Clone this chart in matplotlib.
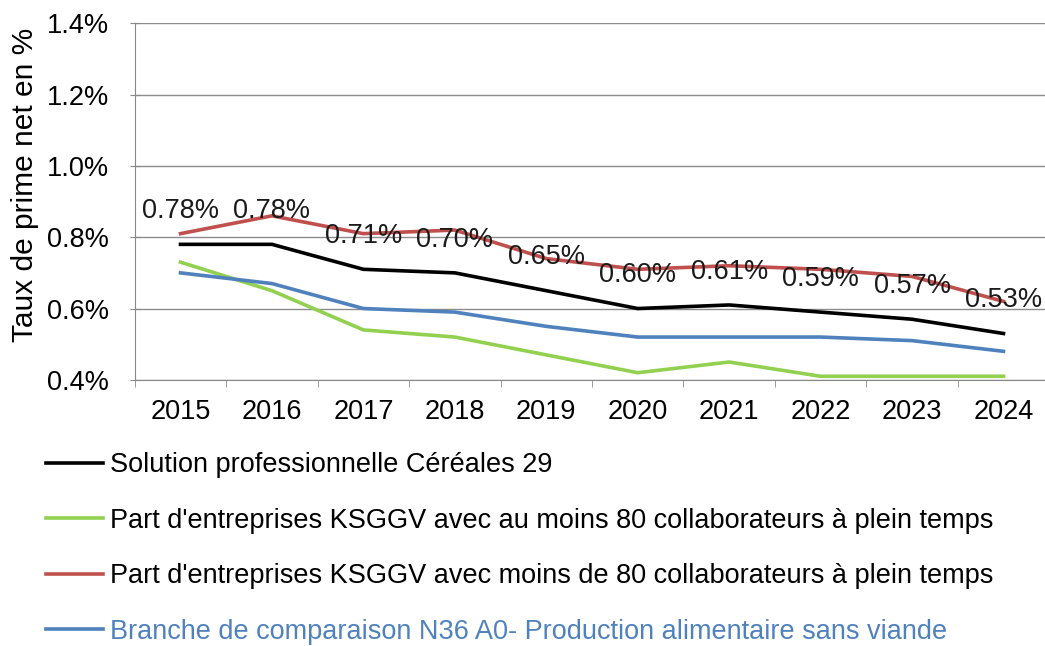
import matplotlib
matplotlib.use("Agg")
from matplotlib import pyplot as plt
from matplotlib.ticker import FuncFormatter, FixedLocator

plt.rcParams['font.family'] = ['Liberation Sans', 'DejaVu Sans']

years = ['2015', '2016', '2017', '2018', '2019', '2020', '2021', '2022', '2023', '2024']

# taux de prime net (%)
solution_cereales = [0.78, 0.78, 0.71, 0.70, 0.65, 0.60, 0.61, 0.59, 0.57, 0.53]
ksggv_80_plus = [0.73, 0.65, 0.54, 0.52, 0.47, 0.42, 0.45, 0.41, 0.41, 0.41]
ksggv_moins_80 = [0.81, 0.86, 0.81, 0.82, 0.74, 0.71, 0.72, 0.71, 0.69, 0.62]
branche_n36 = [0.70, 0.67, 0.60, 0.59, 0.55, 0.52, 0.52, 0.52, 0.51, 0.48]

labels = [
    'Solution professionnelle Céréales 29',
    "Part d'entreprises KSGGV avec au moins 80 collaborateurs à plein temps",
    "Part d'entreprises KSGGV avec moins de 80 collaborateurs à plein temps",
    'Branche de comparaison N36 A0- Production alimentaire sans viande',
]

fs = 19.5
fig = plt.figure(figsize=(10.45, 6.46), dpi=100)
ax = fig.add_axes([0.129, 0.412, 0.875, 0.552])

x = range(len(years))
lw = 2.6
l1, = ax.plot(x, solution_cereales, color='black', lw=lw, zorder=5)
l2, = ax.plot(x, ksggv_80_plus, color='#92D050', lw=lw, zorder=3)
l3, = ax.plot(x, ksggv_moins_80, color='#C0504D', lw=lw, zorder=4)
l4, = ax.plot(x, branche_n36, color='#4F81BD', lw=lw, zorder=3)

# étiquettes de données de la série principale
for i, v in enumerate(solution_cereales):
    ax.annotate('%.2f%%' % v, (i, v), xytext=(0, 24), textcoords='offset points',
                ha='center', va='center', fontsize=fs, color='#1a1a1a', zorder=6)

ax.set_xlim(-0.5, 9.5)
ax.set_ylim(0.4, 1.4)
ax.set_yticks([0.4, 0.6, 0.8, 1.0, 1.2, 1.4])
ax.yaxis.set_major_formatter(FuncFormatter(lambda v, p: '%.1f%%' % v))
ax.set_xticks(list(x))
ax.set_xticklabels(years)
ax.xaxis.set_minor_locator(FixedLocator([i - 0.5 for i in range(len(years) + 1)]))
ax.tick_params(axis='x', which='major', length=0, pad=14, labelsize=fs)
ax.tick_params(axis='x', which='minor', length=5, direction='out', color='#888888')
ax.tick_params(axis='y', length=7, direction='inout', color='#888888', labelsize=fs, pad=15)

ax.grid(axis='y', color='#8c8c8c', lw=1)
ax.set_axisbelow(True)
for s in ['top', 'right']:
    ax.spines[s].set_visible(False)
ax.spines['left'].set_color('#888888')
ax.spines['bottom'].set_color('#888888')

ax.set_ylabel('Taux de prime net en %', fontsize=21.5)
ax.yaxis.set_label_coords(-0.105, 0.546)

leg = fig.legend([l1, l2, l3, l4], labels, loc='upper left',
                 bbox_to_anchor=(0.044, 0.300), frameon=False, fontsize=fs,
                 handlelength=2.1, handletextpad=0.25, labelspacing=1.09,
                 borderaxespad=0, borderpad=0)
leg.get_texts()[3].set_color('#4F81BD')

plt.savefig('out.png', dpi=100)
